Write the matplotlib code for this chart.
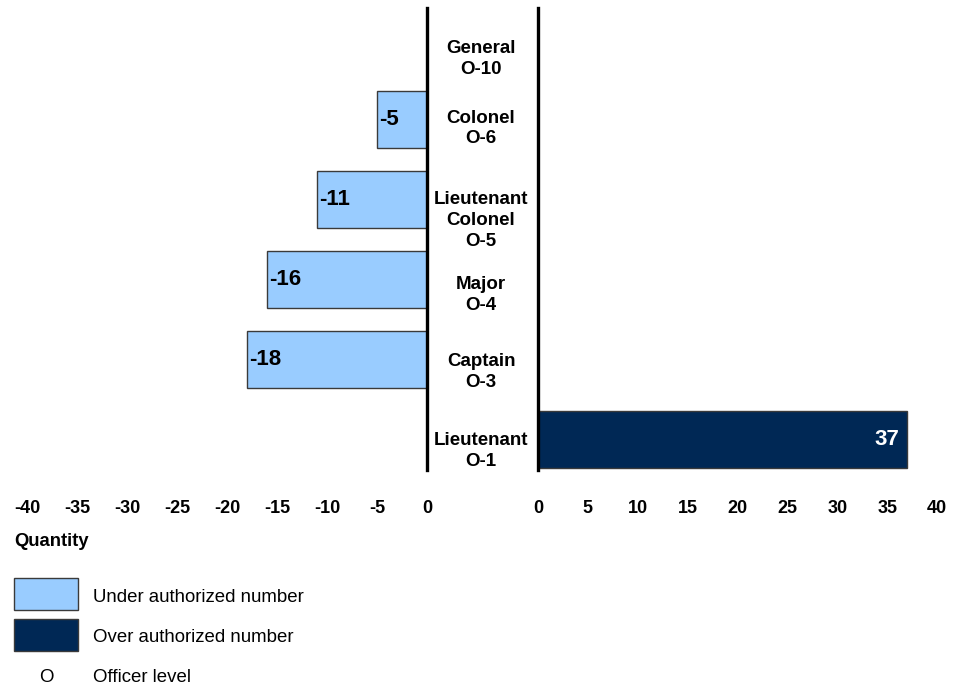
import matplotlib.pyplot as plt
from matplotlib.patches import Rectangle
import matplotlib.transforms as mtransforms

# officer levels, top to bottom
ranks = ['General\nO-10', 'Colonel\nO-6', 'Lieutenant\nColonel\nO-5',
         'Major\nO-4', 'Captain\nO-3', 'Lieutenant\nO-1']
under = [0, -5, -11, -16, -18, 0]
over = [0, 0, 0, 0, 0, 37]
left_ticks = [-40, -35, -30, -25, -20, -15, -10, -5, 0]
right_ticks = [0, 5, 10, 15, 20, 25, 30, 35, 40]

light = '#99CCFF'
dark = '#002855'
edge = '#3a3a3a'

plt.rcParams['font.family'] = ['Liberation Sans', 'DejaVu Sans']

fig = plt.figure(figsize=(9.64, 6.87), dpi=100)
axL = fig.add_axes([27 / 964, 1 - 470 / 687, 400 / 964, 462 / 687])
axR = fig.add_axes([538 / 964, 1 - 470 / 687, 399 / 964, 462 / 687])

h = 57 / 80

for ax in (axL, axR):
    ax.set_ylim(5.38, -0.39)
    for s in ax.spines.values():
        s.set_visible(False)
    ax.set_yticks([])
    ax.tick_params(axis='x', length=0, pad=21.5, labelsize=13)
    ax.axvline(0, color='black', lw=2.4, zorder=5, clip_on=False)

axL.set_xlim(-40, 0)
axR.set_xlim(0, 40)
axL.set_xticks(left_ticks)
axR.set_xticks(right_ticks)
axL.set_xticklabels([str(t) for t in left_ticks], fontweight='bold')
axR.set_xticklabels([str(t) for t in right_ticks], fontweight='bold')

# bars
for i, v in enumerate(under):
    if v != 0:
        axL.barh(i, v, height=h, color=light, edgecolor=edge, lw=1)
        axL.text(v + 0.2, i, str(v), ha='left', va='center',
                 fontsize=16, fontweight='bold')
for i, v in enumerate(over):
    if v != 0:
        axR.barh(i, v, height=h, color=dark, edgecolor=edge, lw=1)
        axR.text(v - 0.8, i, str(v), ha='right', va='center',
                 fontsize=16, fontweight='bold', color='white')

# center rank labels
label_pos = [0.245, 1.115, 2.265, 3.195, 4.155, 5.145]
trans = mtransforms.blended_transform_factory(fig.transFigure, axL.transData)
for r, yp in zip(ranks, label_pos):
    fig.text(481 / 964, yp, r, transform=trans, ha='center', va='center',
             fontsize=13.5, fontweight='bold', linespacing=1.3)

# axis title and legend
fig.text(14 / 964, 1 - 542 / 687, 'Quantity', ha='left', va='center',
         fontsize=13.3, fontweight='bold')
fig.patches.append(Rectangle((14 / 964, 1 - 610 / 687), 64 / 964, 32 / 687,
                             transform=fig.transFigure, facecolor=light,
                             edgecolor=edge, lw=1))
fig.patches.append(Rectangle((14 / 964, 1 - 651 / 687), 64 / 964, 32 / 687,
                             transform=fig.transFigure, facecolor=dark,
                             edgecolor=edge, lw=1))
fig.text(93 / 964, 1 - 597 / 687, 'Under authorized number', ha='left',
         va='center', fontsize=13.4)
fig.text(93 / 964, 1 - 637 / 687, 'Over authorized number', ha='left',
         va='center', fontsize=13.4)
fig.text(46 / 964, 1 - 678 / 687, 'O', ha='center', va='center', fontsize=13.4)
fig.text(93 / 964, 1 - 678 / 687, 'Officer level', ha='left', va='center',
         fontsize=13.4)

fig.savefig('out.png', dpi=100)
